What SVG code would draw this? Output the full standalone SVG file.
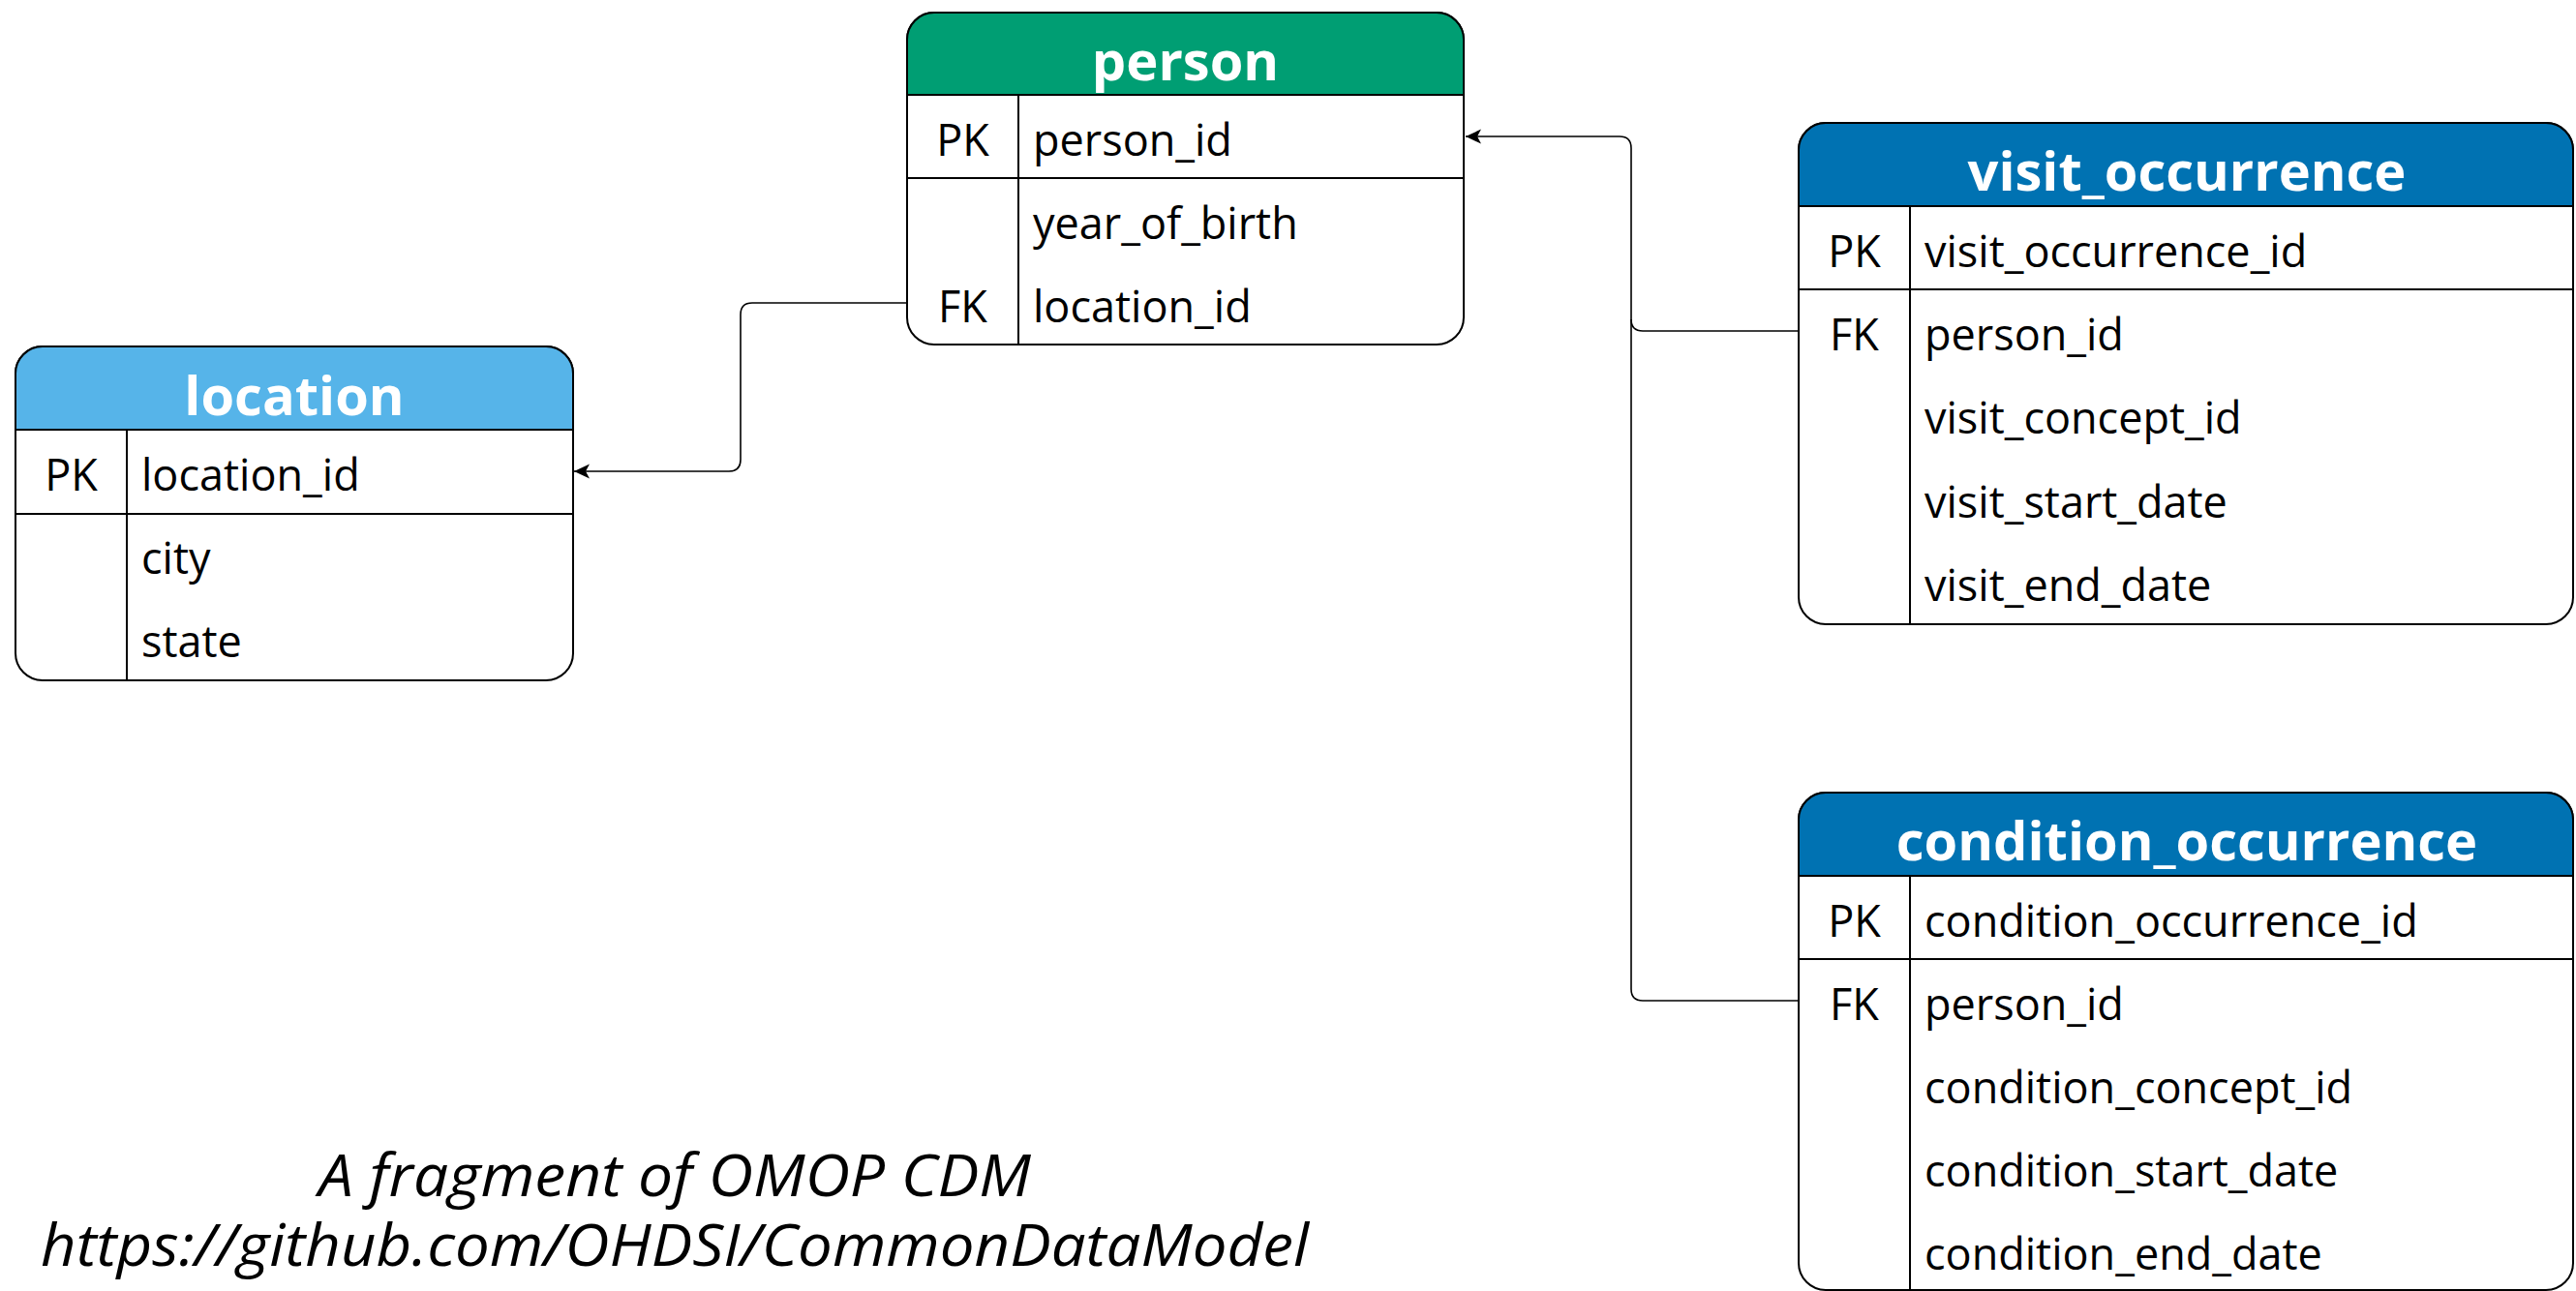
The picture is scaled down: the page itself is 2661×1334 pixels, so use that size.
<svg xmlns="http://www.w3.org/2000/svg" width="2661" height="1334" viewBox="0 0 2661 1334">
<style>
.box{fill:#fff;stroke:#000;stroke-width:2}
.hdr{stroke:#000;stroke-width:2}
.ln{stroke:#000;stroke-width:2;fill:none}
.title{font-family:"Open Sans","Noto Sans",sans-serif;font-weight:700;font-size:56px;fill:#fff;text-anchor:middle}
.key{font-family:"Open Sans","Noto Sans",sans-serif;font-size:45px;fill:#000;text-anchor:middle}
.fld{font-family:"Open Sans","Noto Sans",sans-serif;font-size:45px;fill:#000}
.conn{fill:none;stroke:#000;stroke-width:1.6}
.foot{font-family:"Open Sans","Noto Sans",sans-serif;font-style:italic;font-size:61px;fill:#000;text-anchor:middle}
</style>
<defs>
<marker id="arr" markerUnits="userSpaceOnUse" markerWidth="18" markerHeight="16" refX="16" refY="8" orient="auto" viewBox="0 0 18 16">
<path d="M0,0.5 L16,8 L0,15.5 L4,8 Z" fill="#000"/>
</marker>
</defs>

<g id="connectors">
<path class="conn" d="M937,313 H777 Q765,313 765,325 V475 Q765,487 753,487 H593" marker-end="url(#arr)"/>
<path class="conn" d="M1858,342 H1697 Q1685,342 1685,330 V153 Q1685,141 1673,141 H1514" marker-end="url(#arr)"/>
<path class="conn" d="M1858,1034 H1697 Q1685,1034 1685,1022 V330"/>
</g>

<g id="person">
<rect class="box" x="937" y="13" width="575" height="343" rx="28" ry="28"/>
<path class="hdr" fill="#009E73" d="M937,98 V41 A28,28 0 0 1 965,13 H1484 A28,28 0 0 1 1512,41 V98 Z"/>
<line class="ln" x1="937" y1="184" x2="1512" y2="184"/>
<line class="ln" x1="1052" y1="98" x2="1052" y2="356"/>
<text class="title" x="1224.5" y="83">person</text>
<text class="key" x="994.5" y="161">PK</text>
<text class="fld" x="1067" y="161">person_id</text>
<text class="fld" x="1067" y="247">year_of_birth</text>
<text class="key" x="994.5" y="333">FK</text>
<text class="fld" x="1067" y="333">location_id</text>
</g>

<g id="location">
<rect class="box" x="16" y="358" width="576" height="345" rx="28" ry="28"/>
<path class="hdr" fill="#56B4E9" d="M16,444 V386 A28,28 0 0 1 44,358 H564 A28,28 0 0 1 592,386 V444 Z"/>
<line class="ln" x1="16" y1="531" x2="592" y2="531"/>
<line class="ln" x1="131" y1="444" x2="131" y2="703"/>
<text class="title" x="304" y="429">location</text>
<text class="key" x="73.5" y="507">PK</text>
<text class="fld" x="146" y="507">location_id</text>
<text class="fld" x="146" y="593">city</text>
<text class="fld" x="146" y="679">state</text>
</g>

<g id="visit_occurrence">
<rect class="box" x="1858" y="127" width="800" height="518" rx="28" ry="28"/>
<path class="hdr" fill="#0072B2" d="M1858,213 V155 A28,28 0 0 1 1886,127 H2630 A28,28 0 0 1 2658,155 V213 Z"/>
<line class="ln" x1="1858" y1="299" x2="2658" y2="299"/>
<line class="ln" x1="1973" y1="213" x2="1973" y2="645"/>
<text class="title" x="2259" y="197">visit_occurrence</text>
<text class="key" x="1915.5" y="276">PK</text>
<text class="fld" x="1988" y="276">visit_occurrence_id</text>
<text class="key" x="1915.5" y="362">FK</text>
<text class="fld" x="1988" y="362">person_id</text>
<text class="fld" x="1988" y="448">visit_concept_id</text>
<text class="fld" x="1988" y="535">visit_start_date</text>
<text class="fld" x="1988" y="621">visit_end_date</text>
</g>

<g id="condition_occurrence">
<rect class="box" x="1858" y="819" width="800" height="514" rx="28" ry="28"/>
<path class="hdr" fill="#0072B2" d="M1858,905 V847 A28,28 0 0 1 1886,819 H2630 A28,28 0 0 1 2658,847 V905 Z"/>
<line class="ln" x1="1858" y1="991" x2="2658" y2="991"/>
<line class="ln" x1="1973" y1="905" x2="1973" y2="1333"/>
<text class="title" x="2259" y="889">condition_occurrence</text>
<text class="key" x="1915.5" y="968">PK</text>
<text class="fld" x="1988" y="968">condition_occurrence_id</text>
<text class="key" x="1915.5" y="1054">FK</text>
<text class="fld" x="1988" y="1054">person_id</text>
<text class="fld" x="1988" y="1140">condition_concept_id</text>
<text class="fld" x="1988" y="1226">condition_start_date</text>
<text class="fld" x="1988" y="1312">condition_end_date</text>
</g>

<g id="caption">
<text class="foot" x="697" y="1236" textLength="736" lengthAdjust="spacingAndGlyphs">A fragment of OMOP CDM</text>
<text class="foot" x="697" y="1308" textLength="1310" lengthAdjust="spacingAndGlyphs">https://github.com/OHDSI/CommonDataModel</text>
</g>
</svg>
